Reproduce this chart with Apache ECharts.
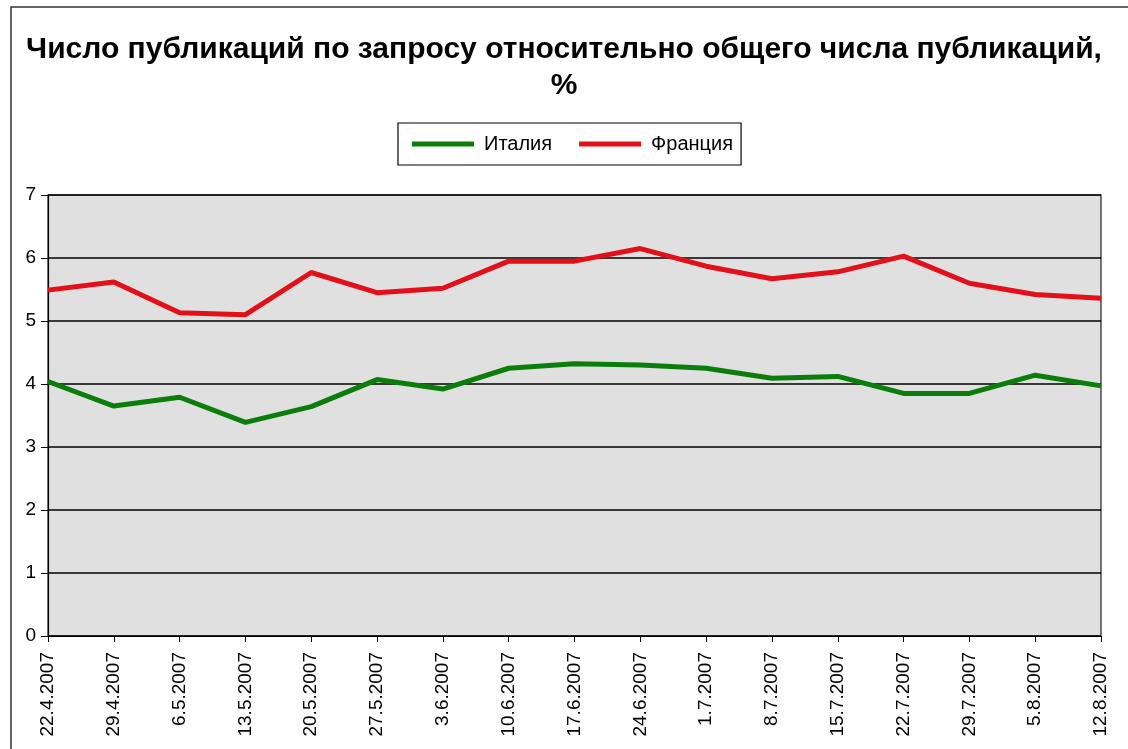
<!DOCTYPE html>
<html><head><meta charset="utf-8">
<script src="https://cdn.jsdelivr.net/npm/echarts@6/dist/echarts.min.js"></script>
<style>html,body{margin:0;padding:0;background:#fff}#c{width:1128px;height:749px}</style>
</head><body><div id="c"></div>
<script>
const categories = ['22.4.2007','29.4.2007','6.5.2007','13.5.2007','20.5.2007','27.5.2007','3.6.2007','10.6.2007','17.6.2007','24.6.2007','1.7.2007','8.7.2007','15.7.2007','22.7.2007','29.7.2007','5.8.2007','12.8.2007'];
const italy  = [4.04,3.65,3.79,3.39,3.64,4.07,3.92,4.25,4.32,4.30,4.25,4.09,4.12,3.85,3.85,4.14,3.97];
const france = [5.49,5.62,5.13,5.10,5.77,5.45,5.52,5.95,5.95,6.15,5.87,5.67,5.78,6.03,5.60,5.42,5.36];
const yTicks = [0,1,2,3,4,5,6,7];
const titleText = 'Число публикаций по запросу относительно общего числа публикаций,\n%';

const chart = echarts.init(document.getElementById('c'));
const font = 'Liberation Sans, Arial, sans-serif';
chart.setOption({
  backgroundColor: '#fff',
  animation: false,
  graphic: [{type:'rect', shape:{x:11,y:7,width:1140,height:760}, style:{fill:'none', stroke:'#333', lineWidth:1.5}, z:-10}],
  title: {text: titleText, left: 'center', top: 27,
    textStyle:{fontFamily:font, fontSize:30, fontWeight:'bold', color:'#000', lineHeight:36}},
  legend: {data:['Италия','Франция'], left: 398, top: 123,
    itemWidth: 62, itemHeight: 5, itemGap: 27, icon: 'rect',
    padding: [11, 8, 11, 14], borderColor:'#000', borderWidth:1.2,
    textStyle:{fontFamily:font, fontSize:20, color:'#000', padding:[0,0,0,5]}},
  grid: {left: 48, right: 27, top: 195, bottom: 113, show: true, backgroundColor:'#e0e0e0', borderColor:'#222', borderWidth:1.2},
  xAxis: {type:'category', data: categories, boundaryGap:false,
    axisLine:{lineStyle:{color:'#000', width:1.2}}, axisTick:{show:true, length:6, lineStyle:{color:'#000'}},
    axisLabel:{rotate:90, fontFamily:font, fontSize:19, color:'#000', margin:16, interval:0},
    splitLine:{show:false}},
  yAxis: {type:'value', min: yTicks[0], max: yTicks[yTicks.length-1], interval:1,
    axisLine:{show:true, lineStyle:{color:'#000', width:1.2}}, axisTick:{show:true, length:7, lineStyle:{color:'#000'}},
    axisLabel:{fontFamily:font, fontSize:19, color:'#000', margin:12},
    splitLine:{show:true, lineStyle:{color:'#000', width:1.5}}},
  series: [
    {name:'Италия', type:'line', data: italy, symbol:'none', lineStyle:{width:5, color:'#0b7d0b'}, itemStyle:{color:'#0b7d0b'}},
    {name:'Франция', type:'line', data: france, symbol:'none', lineStyle:{width:5, color:'#e3101a'}, itemStyle:{color:'#e3101a'}}
  ]
});
</script></body></html>
